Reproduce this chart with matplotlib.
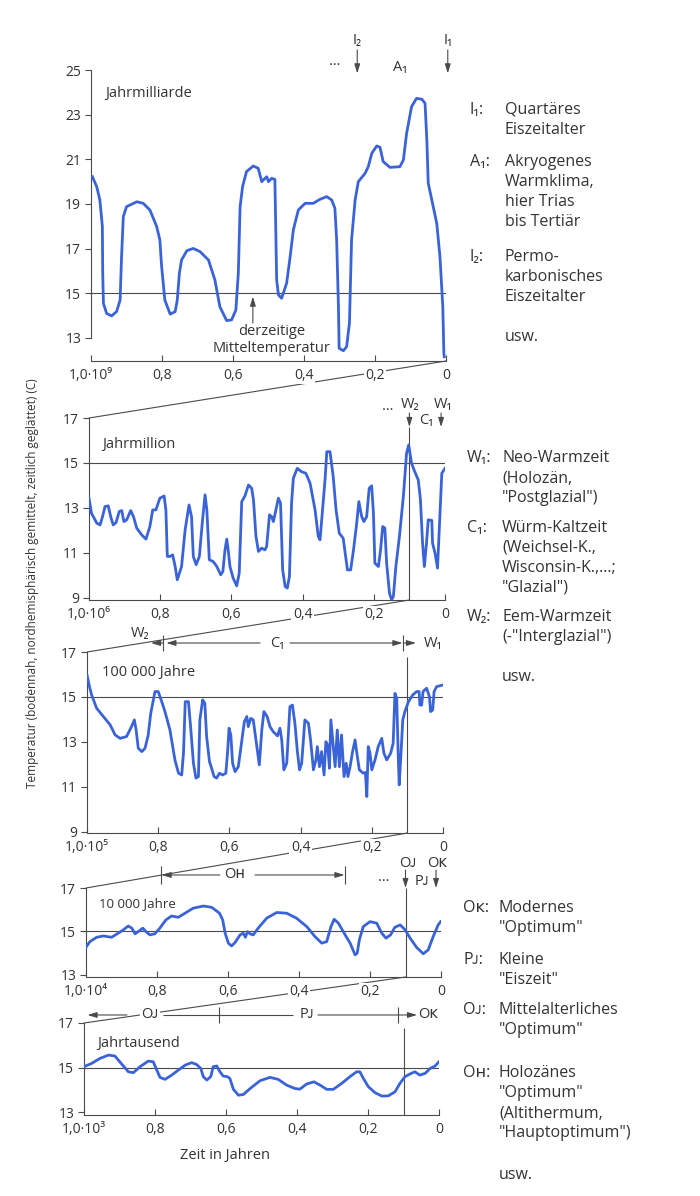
import numpy as np
import matplotlib
matplotlib.use("Agg")
import matplotlib.pyplot as plt
from matplotlib.patches import ConnectionPatch

plt.rcParams['font.family'] = ['Open Sans', 'DejaVu Sans']

# ---- data (x = fraction of the time span, 1.0 = oldest, 0 = today) ----
p1_x = [0.996, 0.984, 0.975, 0.968, 0.967, 0.965, 0.956, 0.942, 0.928, 0.918, 0.914, 0.909, 0.900,
        0.871, 0.853, 0.834, 0.815, 0.806, 0.801, 0.792, 0.777, 0.763, 0.757, 0.751, 0.745, 0.730,
        0.712, 0.693, 0.669, 0.651, 0.637, 0.618, 0.604, 0.592, 0.585, 0.580, 0.573, 0.562, 0.543,
        0.529, 0.519, 0.513, 0.505, 0.500, 0.491, 0.482, 0.479, 0.477, 0.472, 0.463, 0.449, 0.439,
        0.430, 0.416, 0.397, 0.374, 0.355, 0.336, 0.322, 0.313, 0.308, 0.303, 0.301, 0.289, 0.280,
        0.272, 0.266, 0.256, 0.247, 0.228, 0.219, 0.209, 0.195, 0.186, 0.177, 0.158, 0.130, 0.120,
        0.111, 0.097, 0.083, 0.068, 0.059, 0.054, 0.050, 0.036, 0.026, 0.017, 0.009, 0.006, 0.005]
p1_y = [20.22, 19.78, 19.18, 17.99, 15.9, 14.55, 14.1, 13.99, 14.18, 14.7, 16.6, 18.43, 18.88,
        19.1, 19.03, 18.73, 17.99, 17.39, 16.19, 14.7, 14.07, 14.18, 14.7, 15.9, 16.49, 16.91,
        17.01, 16.87, 16.49, 15.6, 14.4, 13.78, 13.81, 14.25, 15.9, 18.88, 19.78, 20.45, 20.7,
        20.6, 20.0, 20.1, 20.22, 20.0, 20.15, 20.1, 17.39, 15.6, 14.93, 14.78, 15.45, 16.64,
        17.84, 18.73, 19.03, 19.03, 19.21, 19.33, 19.18, 18.81, 17.39, 14.4, 12.54, 12.43, 12.61,
        13.66, 17.39, 19.18, 20.0, 20.37, 20.67, 21.27, 21.6, 21.54, 20.9, 20.64, 20.67, 20.97,
        22.16, 23.36, 23.73, 23.69, 23.51, 21.87, 19.93, 18.88, 18.13, 16.64, 14.4, 12.31, 12.16]

p2_x = [1.0, 0.993, 0.978, 0.969, 0.962, 0.955, 0.946, 0.939, 0.932, 0.924, 0.915, 0.908, 0.902,
        0.894, 0.883, 0.875, 0.866, 0.852, 0.840, 0.829, 0.821, 0.812, 0.801, 0.789, 0.784, 0.780,
        0.772, 0.765, 0.758, 0.752, 0.740, 0.730, 0.719, 0.712, 0.707, 0.699, 0.690, 0.681, 0.674,
        0.669, 0.662, 0.651, 0.641, 0.630, 0.624, 0.618, 0.613, 0.609, 0.604, 0.595, 0.585, 0.578,
        0.571, 0.562, 0.552, 0.543, 0.538, 0.531, 0.524, 0.515, 0.506, 0.501, 0.493, 0.487, 0.482,
        0.475, 0.468, 0.462, 0.456, 0.449, 0.443, 0.437, 0.431, 0.426, 0.415, 0.403, 0.391, 0.379,
        0.365, 0.356, 0.351, 0.344, 0.337, 0.332, 0.323, 0.314, 0.306, 0.297, 0.286, 0.279, 0.274,
        0.265, 0.257, 0.248, 0.242, 0.234, 0.228, 0.220, 0.213, 0.206, 0.201, 0.197, 0.187, 0.181,
        0.175, 0.169, 0.164, 0.156, 0.150, 0.145, 0.138, 0.128, 0.117, 0.108, 0.102, 0.094, 0.087,
        0.075, 0.069, 0.063, 0.058, 0.052, 0.047, 0.037, 0.035, 0.028, 0.021, 0.014, 0.009, 0.0]
p2_y = [13.43, 12.76, 12.32, 12.24, 12.61, 13.06, 13.09, 12.61, 12.24, 12.35, 12.84, 12.88, 12.39,
        12.47, 12.88, 12.61, 12.1, 11.8, 11.61, 12.17, 12.91, 12.91, 13.43, 13.53, 12.91, 10.84,
        10.84, 10.91, 10.39, 9.8, 10.39, 12.02, 13.13, 12.61, 10.84, 10.47, 10.84, 12.47, 13.58,
        12.91, 10.69, 10.61, 10.39, 10.02, 10.17, 11.13, 11.61, 11.13, 10.39, 9.87, 9.53, 10.1,
        13.28, 13.53, 14.02, 13.87, 13.36, 11.73, 11.06, 11.21, 11.13, 11.28, 12.69, 12.61, 12.39,
        12.91, 13.43, 13.21, 10.24, 9.5, 9.43, 9.95, 13.21, 14.32, 14.76, 14.61, 14.54, 14.1,
        12.91, 11.73, 11.58, 12.91, 14.24, 15.5, 15.5, 14.39, 12.91, 11.87, 11.65, 10.84, 10.24,
        10.24, 11.13, 12.32, 13.28, 12.61, 12.39, 12.61, 13.87, 13.98, 12.76, 10.54, 10.39, 11.13,
        12.17, 12.1, 10.54, 9.21, 8.91, 9.06, 10.39, 11.73, 13.5, 15.43, 15.8, 14.99, 14.69,
        14.24, 13.36, 11.43, 10.39, 11.43, 12.47, 12.44, 11.43, 10.99, 10.32, 12.76, 14.54, 14.76]

p3_x = [1.0, 0.993, 0.987, 0.973, 0.954, 0.935, 0.921, 0.907, 0.889, 0.875, 0.867, 0.862, 0.856,
        0.846, 0.837, 0.828, 0.821, 0.809, 0.800, 0.790, 0.781, 0.767, 0.753, 0.743, 0.734, 0.729,
        0.724, 0.715, 0.709, 0.701, 0.694, 0.687, 0.683, 0.675, 0.669, 0.664, 0.656, 0.650, 0.643,
        0.636, 0.628, 0.619, 0.610, 0.605, 0.601, 0.596, 0.591, 0.584, 0.575, 0.565, 0.558, 0.551,
        0.547, 0.540, 0.533, 0.523, 0.516, 0.509, 0.503, 0.494, 0.486, 0.477, 0.465, 0.458, 0.453,
        0.447, 0.439, 0.430, 0.423, 0.416, 0.409, 0.403, 0.397, 0.388, 0.378, 0.372, 0.364, 0.357,
        0.353, 0.347, 0.341, 0.334, 0.329, 0.324, 0.319, 0.315, 0.308, 0.303, 0.297, 0.291, 0.285,
        0.278, 0.272, 0.267, 0.261, 0.254, 0.247, 0.242, 0.235, 0.224, 0.218, 0.214, 0.210, 0.205,
        0.200, 0.191, 0.182, 0.172, 0.166, 0.158, 0.147, 0.140, 0.135, 0.130, 0.126, 0.123, 0.119,
        0.113, 0.107, 0.097, 0.085, 0.074, 0.067, 0.065, 0.060, 0.056, 0.046, 0.038, 0.035, 0.029,
        0.025, 0.018, 0.001]
p3_y = [15.98, 15.46, 15.09, 14.5, 14.13, 13.76, 13.31, 13.16, 13.24, 13.68, 13.98, 13.53, 12.72,
        12.57, 12.72, 13.31, 14.27, 15.24, 15.24, 14.79, 14.35, 13.53, 12.2, 11.61, 11.53, 12.5,
        14.79, 14.79, 13.68, 12.05, 11.39, 11.46, 13.98, 14.87, 14.72, 13.24, 12.13, 11.83, 11.46,
        11.39, 11.61, 11.53, 11.61, 12.57, 13.61, 13.31, 12.05, 11.68, 11.9, 13.09, 13.9, 14.13,
        13.68, 14.05, 13.98, 12.79, 11.98, 13.53, 14.35, 14.13, 13.68, 13.46, 13.27, 13.61, 13.09,
        11.76, 12.05, 14.57, 14.64, 13.83, 12.57, 11.76, 12.05, 13.98, 13.83, 13.09, 11.76, 12.2,
        12.79, 11.9, 12.57, 11.53, 13.01, 12.87, 11.83, 13.98, 12.79, 11.9, 13.53, 11.9, 13.31,
        11.46, 12.05, 11.46, 11.9, 12.57, 13.09, 12.5, 11.76, 11.61, 11.64, 10.57, 12.79, 12.5,
        11.76, 12.2, 12.79, 13.16, 12.5, 12.2, 12.5, 12.94, 15.16, 14.94, 12.5, 11.09, 12.2,
        13.98, 14.35, 14.79, 15.09, 15.24, 15.24, 14.64, 14.64, 15.24, 15.39, 15.01, 14.35, 14.42,
        15.24, 15.46, 15.53]

p4_x = [1.0, 0.989, 0.970, 0.951, 0.928, 0.909, 0.895, 0.881, 0.871, 0.862, 0.853, 0.840, 0.831,
        0.820, 0.806, 0.792, 0.775, 0.759, 0.740, 0.721, 0.698, 0.669, 0.646, 0.624, 0.615, 0.608,
        0.599, 0.590, 0.580, 0.566, 0.557, 0.551, 0.545, 0.538, 0.529, 0.515, 0.491, 0.463, 0.435,
        0.407, 0.378, 0.355, 0.336, 0.322, 0.310, 0.301, 0.289, 0.270, 0.256, 0.242, 0.236, 0.230,
        0.219, 0.200, 0.181, 0.167, 0.155, 0.142, 0.130, 0.115, 0.101, 0.087, 0.069, 0.050, 0.036,
        0.022, 0.008, 0.001]
p4_y = [14.27, 14.53, 14.73, 14.79, 14.73, 14.92, 15.07, 15.25, 15.15, 14.89, 14.99, 15.15, 14.99,
        14.84, 14.89, 15.15, 15.53, 15.71, 15.65, 15.84, 16.07, 16.17, 16.11, 15.84, 15.53, 14.92,
        14.46, 14.33, 14.49, 14.84, 14.92, 14.73, 14.99, 14.89, 14.84, 15.15, 15.61, 15.87, 15.84,
        15.61, 15.22, 14.76, 14.46, 14.53, 15.22, 15.56, 15.38, 14.84, 14.46, 13.92, 14.0, 14.61,
        15.22, 15.45, 15.38, 14.92, 14.69, 14.84, 15.19, 15.3, 15.07, 14.69, 14.27, 13.97, 14.15,
        14.76, 15.3, 15.45]

p5_x = [1.0, 0.978, 0.955, 0.931, 0.913, 0.894, 0.875, 0.861, 0.842, 0.819, 0.805, 0.795, 0.786,
        0.772, 0.753, 0.734, 0.715, 0.697, 0.683, 0.671, 0.664, 0.654, 0.643, 0.636, 0.626, 0.617,
        0.608, 0.596, 0.589, 0.579, 0.565, 0.551, 0.532, 0.504, 0.476, 0.453, 0.429, 0.406, 0.392,
        0.373, 0.352, 0.335, 0.316, 0.298, 0.274, 0.251, 0.232, 0.223, 0.213, 0.199, 0.180, 0.161,
        0.143, 0.124, 0.110, 0.096, 0.082, 0.068, 0.054, 0.039, 0.025, 0.011, 0.0]
p5_y = [15.04, 15.19, 15.41, 15.56, 15.52, 15.16, 14.81, 14.77, 15.04, 15.29, 15.26, 14.89, 14.56,
        14.47, 14.66, 14.89, 15.11, 15.22, 15.14, 14.96, 14.59, 14.44, 14.59, 15.04, 15.07, 14.81,
        14.62, 14.59, 14.51, 14.02, 13.76, 13.79, 14.06, 14.41, 14.56, 14.47, 14.21, 14.06, 14.03,
        14.26, 14.36, 14.21, 14.02, 14.02, 14.29, 14.59, 14.81, 14.81, 14.51, 14.14, 13.87, 13.72,
        13.73, 13.91, 14.29, 14.59, 14.71, 14.81, 14.66, 14.74, 14.96, 15.07, 15.26]

xticks = [1.0, 0.8, 0.6, 0.4, 0.2, 0.0]
first_labels = ['1,0·10⁹', '1,0·10⁶', '1,0·10⁵', '1,0·10⁴', '1,0·10³']
panel_names = ['Jahrmilliarde', 'Jahrmillion', '100 000 Jahre', '10 000 Jahre', 'Jahrtausend']

BLUE = '#3a63d8'
GREY = '#4a4a4a'
TXT = '#333333'

W, H = 700, 1196
fig = plt.figure(figsize=(7, 11.96), dpi=100)


def fx(px):
    return px / W


def fy(py):
    return 1 - py / H


def make_ax(x0, x1, ytop, ybot, ylim, spine_lo, spine_hi, yticks, first):
    ax = fig.add_axes([fx(x0), fy(ybot), (x1 - x0) / W, (ybot - ytop) / H])
    ax.patch.set_visible(False)
    ax.set_xlim(1.0, 0.0)
    ax.set_ylim(*ylim)
    for s in ['top', 'right']:
        ax.spines[s].set_visible(False)
    ax.spines['left'].set_bounds(spine_lo, spine_hi)
    for s in ['left', 'bottom']:
        ax.spines[s].set_color(GREY)
        ax.spines[s].set_linewidth(0.8)
    ax.set_xticks(xticks)
    ax.set_xticklabels([first, '0,8', '0,6', '0,4', '0,2', '0'])
    ax.set_yticks(yticks)
    ax.set_yticklabels([str(t) for t in yticks])
    ax.tick_params(axis='x', direction='in', length=4, width=0.8, color=GREY,
                   pad=5, labelsize=10, labelcolor=TXT)
    ax.tick_params(axis='y', direction='out', length=4, width=0.8, color=GREY,
                   pad=3, labelsize=10, labelcolor=TXT)
    for lab in ax.get_xticklabels():
        lab.set_bbox(dict(facecolor='white', edgecolor='none', pad=1.0))
    ax.axhline(15, color=GREY, lw=0.8, zorder=1)
    return ax


def arrow(ax, x0, y0, x1, y1):
    ax.annotate('', xy=(x1, y1), xytext=(x0, y0), annotation_clip=False,
                arrowprops=dict(arrowstyle='-|>,head_length=0.55,head_width=0.17',
                                color=GREY, lw=0.8, shrinkA=0, shrinkB=0))


def label(ax, x, y, s, size=10.5, ha='center', box=False):
    kw = {}
    if box:
        kw['bbox'] = dict(facecolor='white', edgecolor='none', pad=1.0)
    ax.text(x, y, s, ha=ha, va='center', fontsize=size, color=TXT, clip_on=False, **kw)


def line(ax, xs, ys):
    ax.plot(xs, ys, color=GREY, lw=0.8, clip_on=False, solid_capstyle='butt')


# ---- panel 1 ----
ax1 = make_ax(91, 446, 70, 361, (11.97, 25), 13, 25, [13, 15, 17, 19, 21, 23, 25], first_labels[0])
ax1.plot(p1_x, p1_y, color=BLUE, lw=2, solid_joinstyle='round', zorder=3)
label(ax1, 0.96, 23.97, panel_names[0], size=10.5, ha='left')
label(ax1, 0.49, 12.9, 'derzeitige\nMitteltemperatur', size=10.5)
arrow(ax1, 0.544, 13.67, 0.544, 14.85)
label(ax1, 0.313, 25.4, '…')
label(ax1, 0.25, 26.3, 'I₂')
arrow(ax1, 0.25, 25.9, 0.25, 24.85)
label(ax1, 0.13, 25.13, 'A₁')
label(ax1, -0.005, 26.3, 'I₁')
arrow(ax1, -0.005, 25.9, -0.005, 24.85)

# ---- panel 2 ----
ax2 = make_ax(89, 445, 418, 600, (8.9, 17), 9, 17, [9, 11, 13, 15, 17], first_labels[1])
ax2.plot(p2_x, p2_y, color=BLUE, lw=2, solid_joinstyle='round', zorder=3)
label(ax2, 0.963, 15.8, panel_names[1], ha='left')
line(ax2, [0.1, 0.1], [8.9, 16.6])
label(ax2, 0.16, 17.5, '…')
label(ax2, 0.098, 17.62, 'W₂')
label(ax2, 0.006, 17.62, 'W₁')
arrow(ax2, 0.1, 17.22, 0.1, 16.6)
arrow(ax2, 0.011, 17.22, 0.011, 16.6)
label(ax2, 0.053, 16.91, 'C₁')

# ---- panel 3 ----
ax3 = make_ax(87, 443, 652, 833, (8.95, 17), 9, 17, [9, 11, 13, 15, 17], first_labels[2])
ax3.plot(p3_x, p3_y, color=BLUE, lw=2, solid_joinstyle='round', zorder=3)
label(ax3, 0.958, 16.07, panel_names[2], ha='left')
line(ax3, [0.1, 0.1], [8.95, 16.78])
label(ax3, 0.851, 17.84, 'W₂')
line(ax3, [0.786, 0.786], [17.04, 17.76])
arrow(ax3, 0.786, 17.4, 0.82, 17.4)
arrow(ax3, 0.514, 17.4, 0.777, 17.4)
label(ax3, 0.466, 17.4, 'C₁')
arrow(ax3, 0.43, 17.4, 0.114, 17.4)
line(ax3, [0.112, 0.112], [17.04, 17.76])
arrow(ax3, 0.112, 17.4, 0.076, 17.4)
label(ax3, 0.028, 17.4, 'W₁')

# ---- panel 4 ----
ax4 = make_ax(86, 441, 888, 977, (12.9, 17), 13, 17, [13, 15, 17], first_labels[3])
ax4.plot(p4_x, p4_y, color=BLUE, lw=2, solid_joinstyle='round', zorder=3)
label(ax4, 0.963, 16.3, panel_names[3], size=9.5, ha='left')
line(ax4, [0.1, 0.1], [12.9, 17.0])
line(ax4, [0.789, 0.789], [17.18, 18.01])
line(ax4, [0.27, 0.27], [17.18, 18.01])
arrow(ax4, 0.623, 17.6, 0.787, 17.6)
label(ax4, 0.58, 17.6, 'Oʜ')
arrow(ax4, 0.524, 17.6, 0.272, 17.6)
label(ax4, 0.163, 17.5, '…')
label(ax4, 0.093, 18.15, 'Oᴊ')
label(ax4, 0.011, 18.15, 'Oᴋ')
arrow(ax4, 0.1, 17.83, 0.1, 17.0)
arrow(ax4, 0.014, 17.83, 0.014, 17.0)
label(ax4, 0.054, 17.28, 'Pᴊ')

# ---- panel 5 ----
ax5 = make_ax(84, 439, 1023, 1115, (12.87, 17), 13, 17, [13, 15, 17], first_labels[4])
ax5.plot(p5_x, p5_y, color=BLUE, lw=2, solid_joinstyle='round', zorder=3)
label(ax5, 0.963, 16.1, panel_names[4], ha='left')
line(ax5, [0.1, 0.1], [12.87, 16.78])
arrow(ax5, 0.879, 17.36, 0.99, 17.36)
label(ax5, 0.814, 17.36, 'Oᴊ', box=True)
line(ax5, [0.777, 0.411], [17.36, 17.36])
line(ax5, [0.62, 0.62], [17.0, 17.72])
label(ax5, 0.372, 17.36, 'Pᴊ')
arrow(ax5, 0.341, 17.36, 0.062, 17.36)
line(ax5, [0.115, 0.115], [17.0, 17.72])
label(ax5, 0.031, 17.36, 'Oᴋ')

# ---- zoom connection lines ----
pairs = [(ax1, 0.0, 11.97, ax2), (ax2, 0.1, 8.9, ax3), (ax3, 0.1, 8.95, ax4), (ax4, 0.1, 12.9, ax5)]
for a, xa, ya, b in pairs:
    con = ConnectionPatch(xyA=(xa, ya), coordsA=a.transData, xyB=(1.0, 17), coordsB=b.transData,
                          color=GREY, lw=0.8, zorder=-1)
    fig.add_artist(con)

# ---- axis labels ----
fig.text(fx(33), fy(583), 'Temperatur (bodennah, nordhemisphärisch gemittelt, zeitlich geglättet) (C)',
         rotation=90, ha='center', va='center', fontsize=8.5, color=TXT)
fig.text(fx(225), fy(1155), 'Zeit in Jahren', ha='center', va='center', fontsize=10.5, color=TXT)

# ---- explanations on the right ----
notes = [
    (470, 505, [('I₁:', 110, ['Quartäres', 'Eiszeitalter']),
                ('A₁:', 162, ['Akryogenes', 'Warmklima,', 'hier Trias', 'bis Tertiär']),
                ('I₂:', 257, ['Permo-', 'karbonisches', 'Eiszeitalter']),
                ('', 337, ['usw.'])]),
    (467, 502, [('W₁:', 458, ['Neo-Warmzeit', '(Holozän,', '"Postglazial")']),
                ('C₁:', 528, ['Würm-Kaltzeit', '(Weichsel-K.,', 'Wisconsin-K.,...;', '"Glazial")']),
                ('W₂:', 617, ['Eem-Warmzeit', '(-"Interglazial")']),
                ('', 677, ['usw.'])]),
    (463, 499, [('Oᴋ:', 908, ['Modernes', '"Optimum"']),
                ('Pᴊ:', 960, ['Kleine', '"Eiszeit"']),
                ('Oᴊ:', 1010, ['Mittelalterliches', '"Optimum"']),
                ('Oʜ:', 1073, ['Holozänes', '"Optimum"', '(Altithermum,', '"Hauptoptimum")']),
                ('', 1175, ['usw.'])]),
]
for xl, xt, items in notes:
    for key, y0, lines in items:
        if key:
            fig.text(fx(xl), fy(y0), key, ha='left', va='center', fontsize=11.5, color=TXT)
        for i, s in enumerate(lines):
            fig.text(fx(xt), fy(y0 + 20 * i), s, ha='left', va='center', fontsize=11.5, color=TXT)

fig.savefig('out.png', dpi=100)
